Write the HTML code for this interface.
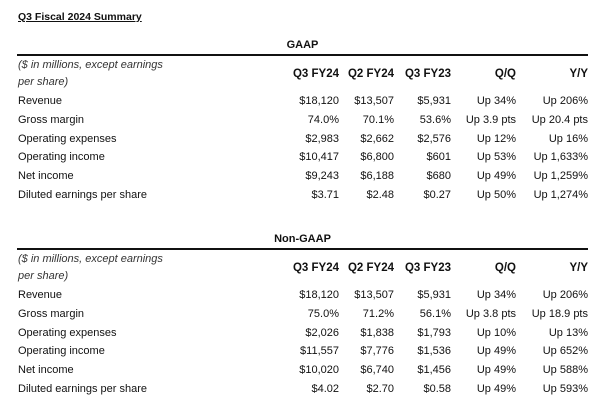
<!DOCTYPE html><html><head><style>
body{margin:0;width:600px;height:408px;background:#fff;position:relative;font-family:"Liberation Sans",sans-serif;font-size:11px;color:#111;overflow:hidden}
div{position:absolute;white-space:nowrap;line-height:13px}
.r{text-align:right}
.b{font-weight:bold}
.i{font-style:italic;color:#333}
.hr{height:1.5px;background:#111;left:17px;width:571px}
</style></head><body>
<div class="b" style="left:18px;top:11px;text-decoration:underline;font-size:10.5px">Q3 Fiscal 2024 Summary</div>
<div id="c"></div>
<script>
function sec(y0,title,rows){
 let h='';
 h+=`<div class="b" style="left:17px;width:571px;text-align:center;top:${y0+1}px">${title}</div>`;
 h+=`<div class="hr" style="top:${y0+16}px"></div>`;
 h+=`<div class="i" style="left:18px;top:${y0+21}px">($ in millions, except earnings</div>`;
 h+=`<div class="i" style="left:18px;top:${y0+38}px">per share)</div>`;
 const rx=[339,394,451,516,588];
 const hd=['Q3 FY24','Q2 FY24','Q3 FY23','Q/Q','Y/Y'];
 hd.forEach((t,i)=>h+=`<div class="b r" style="left:${rx[i]-100}px;width:100px;top:${y0+30}px;font-size:11.5px">${t}</div>`);
 rows.forEach((r,j)=>{const y=y0+57+j*18.8;
  h+=`<div style="left:18px;top:${y}px">${r[0]}</div>`;
  for(let i=0;i<5;i++)h+=`<div class="r" style="left:${rx[i]-100}px;width:100px;top:${y}px">${r[i+1]}</div>`;});
 return h;}
document.getElementById('c').outerHTML=sec(38,'GAAP',[
['Revenue','$18,120','$13,507','$5,931','Up 34%','Up 206%'],
['Gross margin','74.0%','70.1%','53.6%','Up 3.9 pts','Up 20.4 pts'],
['Operating expenses','$2,983','$2,662','$2,576','Up 12%','Up 16%'],
['Operating income','$10,417','$6,800','$601','Up 53%','Up 1,633%'],
['Net income','$9,243','$6,188','$680','Up 49%','Up 1,259%'],
['Diluted earnings per share','$3.71','$2.48','$0.27','Up 50%','Up 1,274%']])+
sec(232,'Non-GAAP',[
['Revenue','$18,120','$13,507','$5,931','Up 34%','Up 206%'],
['Gross margin','75.0%','71.2%','56.1%','Up 3.8 pts','Up 18.9 pts'],
['Operating expenses','$2,026','$1,838','$1,793','Up 10%','Up 13%'],
['Operating income','$11,557','$7,776','$1,536','Up 49%','Up 652%'],
['Net income','$10,020','$6,740','$1,456','Up 49%','Up 588%'],
['Diluted earnings per share','$4.02','$2.70','$0.58','Up 49%','Up 593%']]);
</script>
</body></html>
